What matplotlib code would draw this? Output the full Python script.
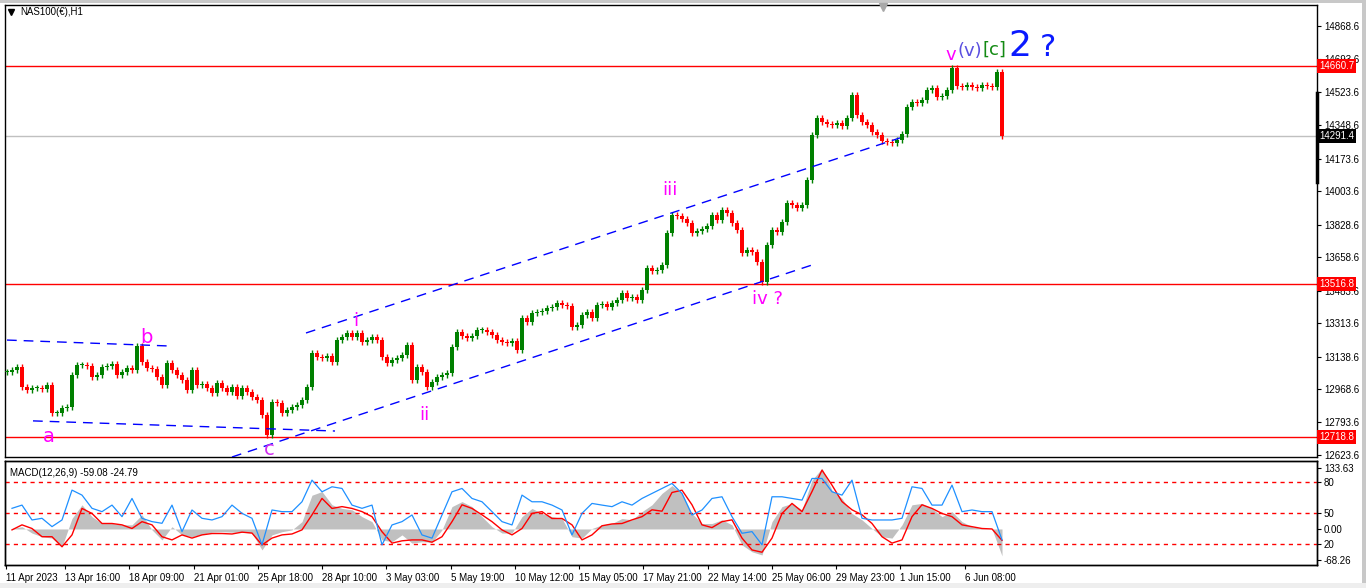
import numpy as np
import matplotlib.pyplot as plt
from matplotlib.lines import Line2D
from matplotlib.patches import Rectangle

plt.rcParams['font.family'] = ['Liberation Sans', 'DejaVu Sans']

# hourly NAS100 chart, resampled to ~5h bars (close prices)
close = [13058, 13068, 13084, 12979, 12964, 12974, 12974, 12969, 12990, 12843,
         12843, 12870, 12875, 13042, 13095, 13095, 13089, 13032, 13042, 13084,
         13089, 13100, 13042, 13058, 13079, 13068, 13194, 13110, 13079, 13074,
         13032, 12990, 13105, 13068, 13042, 13016, 12964, 13068, 12990, 12995,
         12974, 12948, 13000, 12974, 12953, 12979, 12932, 12974, 12953, 12927,
         12911, 12833, 12730, 12901, 12896, 12843, 12859, 12875, 12885, 12911,
         12979, 13157, 13136, 13131, 13142, 13110, 13225, 13241, 13262, 13241,
         13262, 13215, 13225, 13241, 13225, 13136, 13105, 13121, 13131, 13147,
         13199, 13016, 13084, 13058, 12979, 13006, 13032, 13042, 13053, 13189,
         13267, 13246, 13236, 13246, 13278, 13278, 13267, 13251, 13225, 13215,
         13210, 13220, 13173, 13341, 13320, 13367, 13372, 13377, 13393, 13398,
         13419, 13409, 13403, 13294, 13304, 13356, 13372, 13341, 13409, 13414,
         13398, 13419, 13435, 13471, 13445, 13450, 13435, 13487, 13602, 13587,
         13592, 13618, 13785, 13880, 13874, 13859, 13838, 13785, 13796, 13806,
         13822, 13880, 13853, 13906, 13890, 13838, 13801, 13681, 13697, 13686,
         13634, 13530, 13723, 13801, 13791, 13843, 13942, 13932, 13916, 13932,
         14063, 14298, 14387, 14366, 14356, 14351, 14361, 14345, 14387, 14508,
         14403, 14366, 14351, 14314, 14298, 14267, 14262, 14256, 14272, 14303,
         14445, 14471, 14466, 14481, 14534, 14544, 14497, 14502, 14534, 14650,
         14555, 14550, 14560, 14550, 14544, 14560, 14555, 14550, 14628, 14291]

# MACD panel, one value every second bar
macd_main = [1, 5, -9, -17, -20, -39, 23, 53, 27, 12,
             12, 9, 9, 31, -2, -24, 5, -13, -17, -12,
             -7, -6, -7, -7, -9, -46, -13, -6, -2, 16,
             74, 82, 53, 45, 42, 27, 16, -24, -28, -13,
             -31, -28, -29, -2, 49, 60, 49, 27, 5, -9,
             -9, 27, 45, 34, 27, 23, -17, -20, 1, 9,
             12, 23, 20, 38, 53, 78, 95, 78, 34, 12,
             12, 20, 9, -35, -50, -57, 16, 49, 56, 42,
             107, 133, 85, 67, 34, 20, 1, -17, -20, 9,
             53, 56, 45, 27, 38, 16, 5, 1, 0, -59]
macd_signal = [-2, 9, 1, -17, -17, -39, -13, 45, 34, 12,
               12, 9, 1, 16, 9, -17, -24, -13, -20, -13,
               -10, -10, -11, -7, -9, -35, -20, -13, -11, -2,
               31, 67, 45, 49, 45, 38, 27, -6, -31, -26,
               -24, -24, -29, -17, 16, 53, 45, 31, 16, -2,
               -13, 1, 34, 38, 23, 23, 9, -24, -13, 7,
               11, 12, 20, 27, 42, 39, 80, 85, 53, 9,
               3, 16, 20, -20, -46, -51, -20, 34, 56, 38,
               82, 129, 96, 60, 42, 31, 12, -17, -31, -24,
               27, 53, 45, 34, 27, 9, 5, 1, 0, -25]
osc = [54.5, 57.6, 43.3, 44.9, 36.9, 43.3, 72.0, 67.2, 54.5, 51.3,
       57.6, 46.5, 64.0, 44.9, 41.7, 40.1, 57.6, 32.1, 52.9, 44.9,
       43.3, 46.5, 57.6, 49.7, 44.9, 19.4, 52.9, 51.3, 51.3, 60.8,
       81.6, 70.4, 75.2, 73.6, 57.6, 54.5, 57.6, 19.4, 38.5, 41.7,
       48.1, 28.9, 25.8, 48.1, 70.4, 73.6, 64.0, 60.8, 51.3, 41.7,
       38.5, 67.2, 60.8, 60.8, 57.6, 52.9, 28.9, 49.7, 59.2, 57.6,
       56.1, 60.8, 57.6, 64.0, 68.8, 73.6, 78.4, 68.8, 48.1, 52.9,
       64.0, 65.6, 46.5, 30.5, 32.1, 19.4, 65.6, 65.6, 64.0, 62.4,
       83.2, 83.2, 70.4, 67.2, 81.6, 44.9, 43.3, 43.3, 43.3, 44.9,
       75.2, 73.6, 57.6, 57.6, 76.8, 51.3, 52.9, 51.3, 51.3, 24.2]

levels = [14660.7, 13516.8, 12718.8]
bid = 14291.4
price_ticks = [14868.6, 14693.6, 14523.6, 14348.6, 14173.6, 14003.6, 13828.6,
               13658.6, 13483.6, 13313.6, 13138.6, 12968.6, 12793.6, 12623.6]
date_labels = ['11 Apr 2023', '13 Apr 16:00', '18 Apr 09:00', '21 Apr 01:00',
               '25 Apr 18:00', '28 Apr 10:00', '3 May 03:00', '5 May 19:00',
               '10 May 12:00', '15 May 05:00', '17 May 21:00', '22 May 14:00',
               '25 May 06:00', '29 May 23:00', '1 Jun 15:00', '6 Jun 08:00']

# trend lines (bar, price, bar, price)
trendlines = [(59.8, 13262, 178.6, 14283),
              (45.0, 12613, 161.6, 13623),
              (0.0, 13225, 32.4, 13194),
              (5.2, 12802, 65.6, 12749)]

# wave labels: text, bar, price, colour, size
wave_labels = [('a', 8.4, 12718, '#ff00ff', 14),
               ('b', 27.8, 13241, '#ff00ff', 14),
               ('c', 52.4, 12650, '#d02cf0', 14),
               ('i', 69.8, 13325, '#ff00ff', 13),
               ('ii', 83.4, 12833, '#ff00ff', 13),
               ('iii', 132.6, 14010, '#ff00ff', 13),
               ('iv ?', 152.0, 13440, '#ff00ff', 13),
               ('v', 188.8, 14717, '#ff00ff', 13),
               ('(v)', 192.6, 14738, '#5a4fe0', 13),
               ('[c]', 197.4, 14743, '#138a13', 13),
               ('2', 202.6, 14765, '#0a1aff', 26),
               ('?', 208.2, 14755, '#0a1aff', 22)]

W, H = 1366, 588
fig = plt.figure(figsize=(W / 100, H / 100), dpi=100, facecolor='white')
ax = fig.add_axes([5 / W, 1 - 457 / H, 1312 / W, 452 / H])
axm = fig.add_axes([5 / W, 1 - 565 / H, 1312 / W, 104 / H])

# candles
c = np.array(close, dtype=float)
o = np.r_[c[0], c[:-1]]
idx = np.arange(len(c))
up = c >= o
col = np.where(up, '#008000', '#ff0000')
wick = 16
hi = np.maximum(o, c) + wick
lo = np.minimum(o, c) - wick
ax.vlines(idx, lo, hi, colors=col, lw=1.0, zorder=3)
body = np.where(np.abs(c - o) < 4, 4, c - o)
ax.bar(idx, body, bottom=o, width=0.72, color=col, zorder=3)

for lv in levels:
    ax.axhline(lv, color='#ff0000', lw=1, zorder=2)
ax.axhline(bid, color='#c0c0c0', lw=1, zorder=1)

for x0, y0, x1, y1 in trendlines:
    ax.plot([x0, x1], [y0, y1], color='#0000ff', lw=1, ls=(0, (7, 5)), zorder=4)

for txt, xi, yp, clr, fs in wave_labels:
    ax.text(xi, yp, txt, color=clr, fontsize=fs, ha='center', va='center',
            family=['DejaVu Sans'], zorder=5)

ax.set_xlim(-0.4, 262.0)
ax.set_ylim(12613, 14978.5)
ax.set_xticks([])
ax.yaxis.tick_right()
ax.set_yticks(price_ticks)
ax.set_yticklabels([f'{p:.1f}' for p in price_ticks])
ax.tick_params(axis='y', direction='out', length=3, pad=2, labelsize=7)

tr = ax.get_yaxis_transform()
for lv in levels:
    ax.text(1.0015, lv, f'{lv:.1f}', transform=tr, color='white', fontsize=7,
            ha='left', va='center', clip_on=False, zorder=6,
            bbox=dict(boxstyle='square,pad=0.2', fc='#ff0000', ec='none'))
ax.text(1.0015, bid, f'{bid:.1f}', transform=tr, color='white', fontsize=7,
        ha='left', va='center', clip_on=False, zorder=6,
        bbox=dict(boxstyle='square,pad=0.2', fc='black', ec='none'))

# MACD
mx = np.arange(1, len(c), 2)
axm.fill_between(mx, macd_main, 0, color='#c0c0c0', lw=0, zorder=2)
axm.plot(mx, macd_signal, color='#ff0000', lw=1, zorder=4)
axm.set_ylim(-79, 149)
axm.set_xlim(ax.get_xlim())

ax2 = axm.twinx()
ax2.set_ylim(0, 100)
for lv in (80, 50, 20):
    ax2.axhline(lv, color='#ff0000', lw=1, ls=(0, (3, 3)), zorder=1)
ax2.plot(mx, osc, color='#1e90ff', lw=0.9, zorder=3)
ax2.set_yticks([80, 50, 20])
ax2.set_yticklabels(['80', '50', '20'])
ax2.tick_params(axis='y', direction='out', length=3, pad=2, labelsize=7)
ax2.set_xlim(ax.get_xlim())

axm.yaxis.tick_right()
axm.set_yticks([133.63, 0.0, -68.26])
axm.set_yticklabels(['133.63', '0.00', '-68.26'])
axm.tick_params(axis='y', direction='out', length=3, pad=2, labelsize=7)

tick_pos = [-0.2] + [-1.25 + 12.85 * k for k in range(1, len(date_labels))]
axm.set_xticks(tick_pos)
axm.set_xticklabels(date_labels, ha='left')
axm.tick_params(axis='x', direction='out', length=3, pad=3, labelsize=7)

axm.text(0.004, 0.93, 'MACD(12,26,9) -59.08 -24.79', transform=axm.transAxes,
         fontsize=7, ha='left', va='top')

for a in (ax, axm, ax2):
    for s in a.spines.values():
        s.set_color('black')
        s.set_linewidth(1)

# title and chart decorations
fig.text(20 / W, 1 - 12 / H, 'NAS100(€),H1', fontsize=7, va='center', ha='left')
fig.add_artist(Line2D([11 / W], [1 - 12 / H], marker='v', color='black',
                      markersize=4, ls='none'))
fig.add_artist(Line2D([883 / W], [1 - 7 / H], marker='v', color='#a8a8a8',
                      markersize=6, ls='none'))
fig.add_artist(Line2D([1317 / W, 1317 / W], [1 - 93 / H, 1 - 182 / H],
                      color='black', lw=2.5))
fig.add_artist(Rectangle((0, 1 - 3 / H), 1, 3 / H, transform=fig.transFigure,
                         color='#c8c8c8', lw=0))
fig.add_artist(Rectangle((1 - 4 / W, 0), 4 / W, 1, transform=fig.transFigure,
                         color='#c8c8c8', lw=0))
fig.add_artist(Rectangle((0, 0), 1, 5 / H, transform=fig.transFigure,
                         color='#eeeeee', lw=0))

fig.savefig('out.png', dpi=100, facecolor='white')
